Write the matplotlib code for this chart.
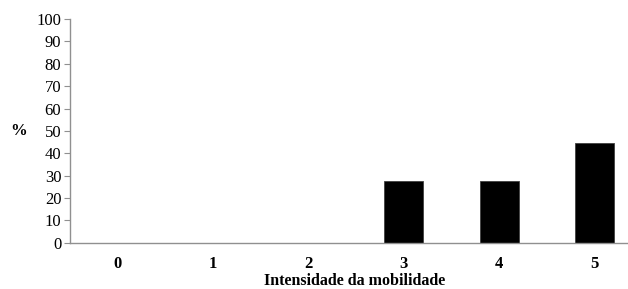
import matplotlib.pyplot as plt
import numpy as np

categorias = ["0", "1", "2", "3", "4", "5"]
porcentagens = [0, 0, 0, 27.8, 27.8, 44.4]
yticks = list(range(0, 101, 10))

plt.rcParams['font.family'] = ['Liberation Serif', 'DejaVu Serif']

fig = plt.figure(figsize=(6.28, 2.89), dpi=100)
ax = fig.add_axes([0.111, 0.160, 0.889, 0.774])

x = np.arange(len(categorias))
ax.bar(x, porcentagens, width=0.41, color="black", edgecolor="#404040", linewidth=0.6)

ax.set_xlim(-0.5, 5.35)
ax.set_ylim(0, 100)
ax.set_yticks(yticks)
ax.set_yticklabels([str(v) for v in yticks], fontsize=12)
ax.set_xticks(x)
ax.set_xticklabels(categorias, fontsize=12, fontweight="bold")
ax.tick_params(axis="x", length=0, pad=9.5)
ax.tick_params(axis="y", length=4, width=0.8, color="#909090", pad=2)

for s in ["top", "right"]:
    ax.spines[s].set_visible(False)
for s in ["left", "bottom"]:
    ax.spines[s].set_color("#909090")
    ax.spines[s].set_linewidth(1.0)

ax.set_xlabel("Intensidade da mobilidade", fontsize=11.5, fontweight="bold", labelpad=0.8)
ax.xaxis.label.set_x(0.511)
fig.text(0.029, 0.547, "%", fontsize=12, fontweight="bold", ha="center", va="center")

fig.savefig("out.png", dpi=100)
